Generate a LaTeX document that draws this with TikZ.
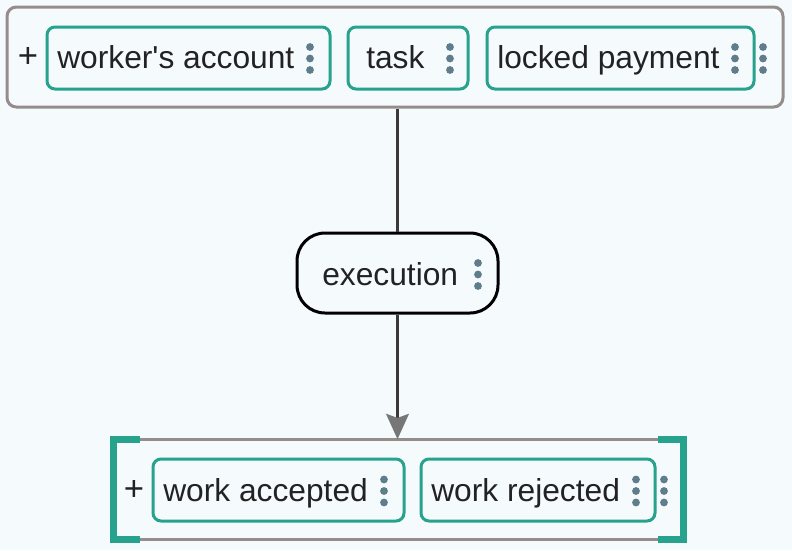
\documentclass[tikz,border=0pt]{standalone}
\usepackage{fontspec}
\setmainfont{Liberation Sans}
\usetikzlibrary{arrows.meta}
\definecolor{bgc}{HTML}{F5FAFD}
\definecolor{teal}{HTML}{26A28D}
\definecolor{grayb}{HTML}{958D8B}
\definecolor{dotc}{HTML}{5F7D8B}
\definecolor{txt}{HTML}{222222}
\definecolor{linec}{HTML}{3A3A3A}
\definecolor{tipc}{HTML}{777777}
\tikzset{
  item/.style={draw=teal, line width=2.25pt, rounded corners=6pt, fill=none, inner sep=0pt, minimum height=46.5pt},
  group/.style={draw=grayb, line width=2.25pt, rounded corners=7pt, inner sep=0pt},
  lbl/.style={text=txt, font=\fontsize{23.8pt}{28pt}\selectfont, inner sep=0pt, anchor=base west},
  plussign/.style={text=txt, font=\fontsize{26pt}{28pt}\selectfont, inner sep=0pt, anchor=center},
  execbox/.style={draw=black, line width=2.25pt, rounded corners=21pt, inner sep=0pt, minimum width=150.75pt, minimum height=60pt},
  ghost/.style={inner sep=0pt, draw=none},
  conn/.style={draw=linec, line width=2.25pt},
  bracket/.style={draw=teal, line width=5.5pt},
  grayline/.style={draw=grayb, line width=2.25pt},
}
\newcommand\kebab[2]{\fill[dotc] (#1,#2-11.5) circle (3.9) (#1,#2) circle (3.9) (#1,#2+11.5) circle (3.9);}
\begin{document}
\begin{tikzpicture}[x=0.75pt,y=-0.75pt]
\useasboundingbox[fill=bgc] (0,0) rectangle (792,550);
% top group
\node[group, minimum width=582pt, minimum height=75pt] (top) at (395,57) {};
\node[plussign] (plus1) at (28,57) {+};
\node[item, minimum width=212.25pt] (wa) at (188.5,58) {};
\node[lbl] (wat) at (57,68) {worker\textquotesingle s account};
\kebab{310}{58.5}
\node[item, minimum width=90pt] (task) at (408,58) {};
\node[lbl] (taskt) at (366,68) {task};
\kebab{450}{58.5}
\node[item, minimum width=200.25pt] (lp) at (620.5,58) {};
\node[lbl] (lpt) at (497,68) {locked payment};
\kebab{735}{58.5}
\kebab{763}{58.5}
% execution
\node[execbox] (exec) at (397.5,273) {};
\node[lbl] (exect) at (322,285) {execution};
\kebab{478}{274.5}
% bottom group
\node[ghost, minimum width=427pt, minimum height=75pt] (bottom) at (398.75,489.5) {};
\draw[grayline] (bottom.north west) -- (bottom.north east);
\draw[grayline] (bottom.south west) -- (bottom.south east);
\draw[bracket] ([xshift=19.5pt]bottom.north west) -- (bottom.north west) -- (bottom.south west) -- ([xshift=19.5pt]bottom.south west);
\draw[bracket] ([xshift=-19.5pt]bottom.north east) -- (bottom.north east) -- (bottom.south east) -- ([xshift=-19.5pt]bottom.south east);
\node[plussign] (plus2) at (134,490) {+};
\node[item, minimum width=188.25pt] (acc) at (278.5,490) {};
\node[lbl] (acct) at (163,501) {work accepted};
\kebab{384}{491}
\node[item, minimum width=175.5pt] (rej) at (538,490) {};
\node[lbl] (rejt) at (431,501) {work rejected};
\kebab{636}{491}
\kebab{664}{491}
% connectors
\draw[conn] (exec.north |- top.south) -- (exec.north);
\draw[conn, -{Stealth[length=19pt, width=17pt, inset=3pt, color=tipc]}] (exec.south) -- (exec.south |- bottom.north);
\end{tikzpicture}
\end{document}
